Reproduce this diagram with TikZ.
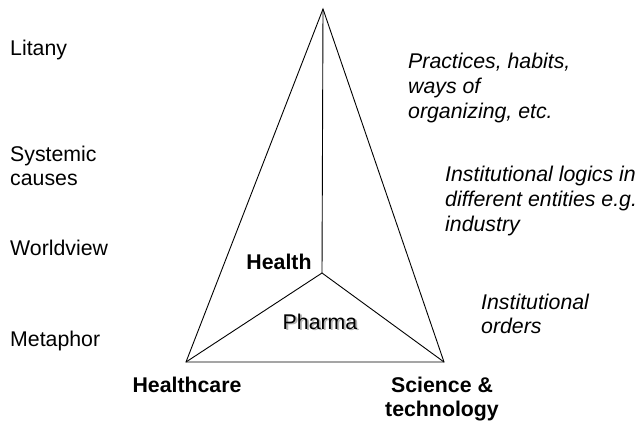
\documentclass[tikz,border=0pt]{standalone}
\usepackage{fontspec}
\setmainfont{Liberation Sans}
\begin{document}
\begin{tikzpicture}[x=1pt,y=-1pt,
  txt/.style={inner sep=0pt, font=\fontsize{21.3}{24.6}\selectfont},
  % multi-line nodes are anchored at the baseline of their last line
  leftlabel/.style={txt, anchor=base west, align=left},
  note/.style={txt, anchor=base west, align=left, font=\fontsize{21.3}{24.6}\selectfont\itshape},
  corner/.style={txt, anchor=base, align=center, font=\fontsize{21.3}{24.6}\selectfont\bfseries},
  edge/.style={line width=0.9pt, line join=miter}]
\useasboundingbox (0,0) rectangle (639,423);

% pyramid corners and the inner point
\coordinate (apex)  at (323,9);
\coordinate (left)  at (186,362);
\coordinate (right) at (444,362);
\coordinate (mid)   at (322,273);

\draw[edge] (apex) -- (left) -- (right) -- cycle;
\draw[edge] (apex) -- (mid);
\draw[edge] (left) -- (mid) -- (right);

% levels on the left
\node[leftlabel] (litany)    at (10,55)    {Litany};
\node[leftlabel] (systemic)  at (10,185.6) {Systemic\\causes};
\node[leftlabel] (worldview) at (10,255)   {Worldview};
\node[leftlabel] (metaphor)  at (10,346)   {Metaphor};

% labels inside and at the corners
\node[corner] (health) at (279,269) {Health};
\node[txt, anchor=base] (pharma) at (320,329)
  {\makebox[0pt][l]{\hspace{1.8pt}\raisebox{-1.8pt}{\textcolor{black!30}{Pharma}}}Pharma};
\node[corner] (healthcare) at (187,392) {Healthcare};
\node[corner] (science) at (442,416.6) {Science \&\\technology};

% notes on the right
\node[note] (practices) at (408,118)   {Practices, habits,\\ways of\\organizing, etc.};
\node[note] (logics)    at (445,231)   {Institutional logics in\\different entities e.g.\\industry};
\node[note] (orders)    at (481,333.6) {Institutional\\orders};
\end{tikzpicture}
\end{document}
